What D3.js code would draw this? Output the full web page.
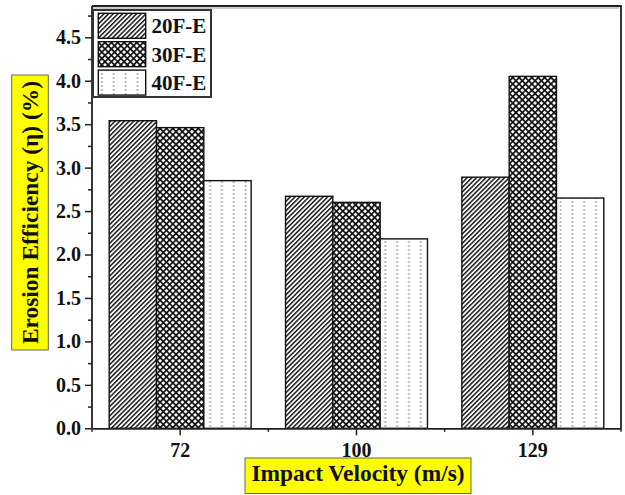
<!DOCTYPE html>
<html>
<head>
<meta charset="utf-8">
<script src="https://cdn.jsdelivr.net/npm/d3@7"></script>
<style>
  html, body { margin: 0; padding: 0; background: #fff; }
  svg { display: block; }
  text { font-family: "Liberation Serif", "Times New Roman", serif; font-weight: bold; fill: #111; }
</style>
</head>
<body>
<svg id="chart" width="625" height="495"></svg>
<script>
// Impact velocities (m/s) and the three fibre-loading series
const categories = ["72", "100", "129"];
const seriesNames = ["20F-E", "30F-E", "40F-E"];
const values20 = [3.54, 2.67, 2.89];
const values30 = [3.46, 2.60, 4.05];
const values40 = [2.85, 2.18, 2.65];
const yTickValues = [0, 0.5, 1.0, 1.5, 2.0, 2.5, 3.0, 3.5, 4.0, 4.5];
const yMinorValues = [0.25, 0.75, 1.25, 1.75, 2.25, 2.75, 3.25, 3.75, 4.25, 4.75];
const xTitle = "Impact Velocity (m/s)";
const yTitle = "Erosion Efficiency (\u03b7) (%)";

const seriesValues = [values20, values30, values40];
const rows = categories.map((c, i) => ({
  category: c,
  bars: seriesNames.map((s, j) => ({ series: s, value: seriesValues[j][i] }))
}));

const svg = d3.select("#chart");
const plotLeft = 92, plotRight = 621, plotTop = 6, plotBottom = 428.3;

const x0 = d3.scaleBand().domain(categories).range([plotLeft, plotRight])
  .paddingInner(0.195).paddingOuter(0.0975);
const x1 = d3.scaleBand().domain(seriesNames).range([0, x0.bandwidth()]);
const y = d3.scaleLinear().domain([0, 4.86]).range([plotBottom, plotTop]);

const defs = svg.append("defs");

// diagonal "///" hatch
const hatch = defs.append("pattern").attr("id", "hatch")
  .attr("patternUnits", "userSpaceOnUse").attr("width", 3.3).attr("height", 10)
  .attr("patternTransform", "rotate(45)");
hatch.append("rect").attr("width", 3.3).attr("height", 10).attr("fill", "#fff");
hatch.append("rect").attr("width", 1.45).attr("height", 10).attr("fill", "#111");

// diagonal cross-hatch
const cross = defs.append("pattern").attr("id", "cross")
  .attr("patternUnits", "userSpaceOnUse").attr("width", 4.5).attr("height", 4.5)
  .attr("patternTransform", "rotate(45)");
cross.append("rect").attr("width", 4.5).attr("height", 4.5).attr("fill", "#fff");
cross.append("rect").attr("width", 1.7).attr("height", 4.5).attr("fill", "#111");
cross.append("rect").attr("width", 4.5).attr("height", 1.7).attr("fill", "#111");

// grey dotted columns, aligned to the left edge of each filled shape
let dotCount = 0;
function dotPattern(xpos, w) {
  const id = "dots" + (dotCount++);
  const colW = w / 4;
  const p = defs.append("pattern").attr("id", id)
    .attr("patternUnits", "userSpaceOnUse")
    .attr("x", xpos).attr("y", 0)
    .attr("width", colW).attr("height", 4);
  p.append("rect").attr("width", colW).attr("height", 4).attr("fill", "#fff");
  p.append("circle").attr("cx", colW * 0.3).attr("cy", 2).attr("r", 1.1).attr("fill", "#aaa");
  return "url(#" + id + ")";
}
function fillFor(series, xpos, w) {
  if (series === "20F-E") return "url(#hatch)";
  if (series === "30F-E") return "url(#cross)";
  return dotPattern(xpos, w);
}

// bars
const groups = svg.append("g").selectAll("g").data(rows).join("g")
  .attr("transform", d => `translate(${x0(d.category)},0)`);
groups.selectAll("rect").data(d => d.bars.map(b => ({ ...b, gx: x0(d.category) }))).join("rect")
  .attr("x", d => x1(d.series))
  .attr("y", d => y(d.value))
  .attr("width", x1.bandwidth())
  .attr("height", d => y(0) - y(d.value))
  .attr("fill", d => fillFor(d.series, d.gx + x1(d.series), x1.bandwidth()))
  .attr("stroke", "#111").attr("stroke-width", 1.4);

// frame (top and right)
svg.append("path")
  .attr("d", `M${plotLeft},${plotTop}H${plotRight}V${plotBottom}`)
  .attr("fill", "none").attr("stroke", "#222").attr("stroke-width", 1.8);
svg.append("path")
  .attr("d", `M${plotLeft},${plotTop + 2}H${plotRight - 2}`)
  .attr("fill", "none").attr("stroke", "#999").attr("stroke-width", 1);

// y axis
const yAxis = svg.append("g").attr("transform", `translate(${plotLeft},0)`)
  .call(d3.axisLeft(y).tickValues(yTickValues).tickSize(7).tickSizeOuter(0)
    .tickPadding(4).tickFormat(d3.format(".1f")));
svg.append("g").attr("transform", `translate(${plotLeft},0)`)
  .call(d3.axisLeft(y).tickValues(yMinorValues).tickSize(4).tickFormat(""))
  .call(g => g.select(".domain").remove());
yAxis.select(".domain").attr("d", `M0,${plotTop}V${plotBottom}`);

// x axis
const xAxis = svg.append("g").attr("transform", `translate(0,${plotBottom})`)
  .call(d3.axisBottom(x0).tickSize(7).tickSizeOuter(0).tickPadding(8));
const boundaries = categories.map(c => x0(c) + x0.bandwidth() / 2 - x0.step() / 2)
  .concat([x0(categories[categories.length - 1]) + x0.bandwidth() / 2 + x0.step() / 2]);
svg.append("g").selectAll("line").data(boundaries).join("line")
  .attr("x1", d => d).attr("x2", d => d)
  .attr("y1", plotBottom).attr("y2", plotBottom + 3.5)
  .attr("stroke", "#222").attr("stroke-width", 1.5);

svg.selectAll(".domain").attr("stroke", "#222").attr("stroke-width", 1.8);
svg.selectAll(".tick line").attr("stroke", "#222").attr("stroke-width", 1.5);
svg.selectAll(".tick text").style("font-family", "Liberation Serif, serif")
  .style("font-weight", "bold").style("font-size", "20px").attr("fill", "#111");

// axis titles on yellow boxes
svg.append("rect").attr("x", 245).attr("y", 458).attr("width", 226).attr("height", 35.5)
  .attr("fill", "#ffff00").attr("stroke", "#666").attr("stroke-width", 1);
svg.append("text").attr("x", 358).attr("y", 481).attr("text-anchor", "middle")
  .style("font-size", "23.4px").text(xTitle);

svg.append("rect").attr("x", 11.7).attr("y", 75).attr("width", 36.6).attr("height", 275)
  .attr("fill", "#ffff00").attr("stroke", "#666").attr("stroke-width", 1);
svg.append("text").attr("transform", "translate(38,212.5) rotate(-90)")
  .attr("text-anchor", "middle").style("font-size", "23.4px").text(yTitle);

// legend
const legend = svg.append("g");
legend.append("rect").attr("x", 93).attr("y", 10).attr("width", 118).attr("height", 87)
  .attr("fill", "#fff").attr("stroke", "#333").attr("stroke-width", 2);
seriesNames.forEach((s, i) => {
  const sy = 13.3 + i * 28.4;
  legend.append("rect").attr("x", 98.3).attr("y", sy).attr("width", 47.4).attr("height", 25)
    .attr("fill", fillFor(s, 98.3, 47.4)).attr("stroke", "#111").attr("stroke-width", 1.4);
  legend.append("text").attr("x", 151.5).attr("y", sy + 20)
    .style("font-size", "21px").text(s);
});
</script>
</body>
</html>
